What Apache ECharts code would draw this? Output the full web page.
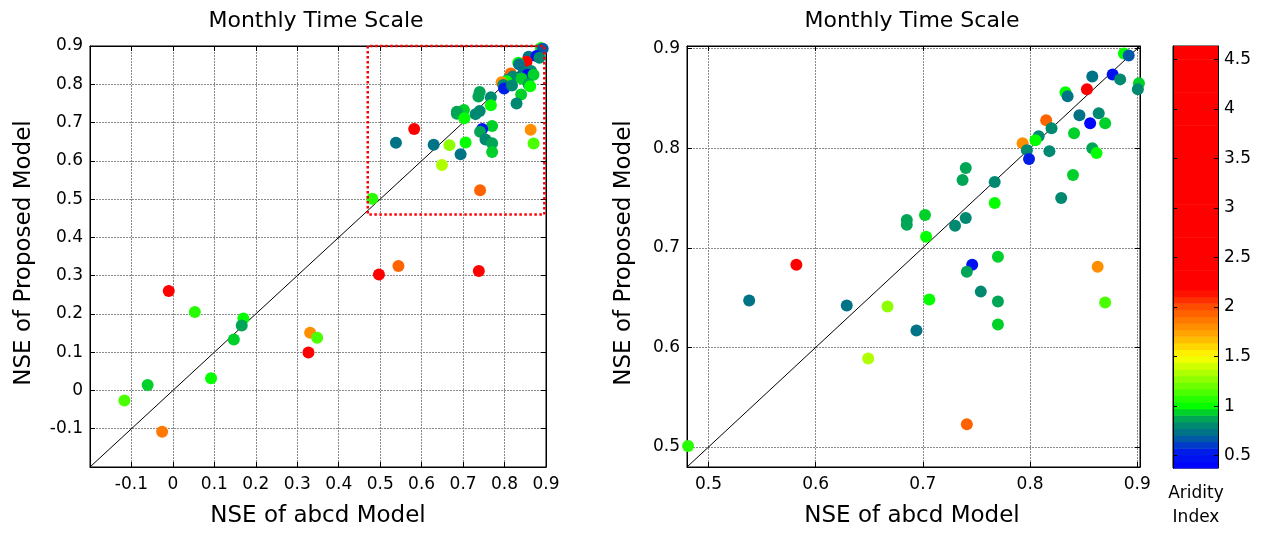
<!DOCTYPE html>
<html>
<head>
<meta charset="utf-8">
<script src="https://cdn.jsdelivr.net/npm/echarts@6/dist/echarts.min.js"></script>
<style>
  html, body { margin: 0; padding: 0; background: #fff; }
  #chart { width: 1262px; height: 533px; }
</style>
</head>
<body>
<div id="chart"></div>
<script>
// Monthly NSE of the abcd model vs. the proposed model, one point per catchment,
// coloured by the catchment's aridity index.
const nseAbcd = [
  0.8875, 0.892, 0.858, 0.877, 0.884, 0.9015, 0.9005, 0.853, 0.833, 0.835,
  0.846, 0.864, 0.856, 0.870, 0.815, 0.820, 0.841, 0.808, 0.805, 0.793,
  0.797, 0.799, 0.818, 0.858, 0.862, 0.840, 0.829, 0.740, 0.737, 0.767,
  0.767, 0.702, 0.685, 0.685, 0.740, 0.730, 0.703, 0.770, 0.582, 0.746,
  0.741, 0.863, 0.754, 0.538, 0.629, 0.667, 0.706, 0.770, 0.870, 0.770,
  0.694, 0.649, 0.741, 0.481,
  -0.010, 0.053, 0.170, 0.166, 0.147, 0.331, 0.348, 0.327, 0.092, -0.061,
  -0.117, -0.026, 0.497, 0.544, 0.738
];
const nseProposed = [
  0.895, 0.893, 0.872, 0.874, 0.869, 0.865, 0.859, 0.859, 0.856, 0.852,
  0.833, 0.835, 0.825, 0.825, 0.828, 0.820, 0.815, 0.812, 0.808, 0.805,
  0.798, 0.789, 0.797, 0.800, 0.795, 0.773, 0.750, 0.780, 0.768, 0.766,
  0.745, 0.733, 0.728, 0.723, 0.730, 0.722, 0.711, 0.691, 0.683, 0.683,
  0.676, 0.681, 0.656, 0.647, 0.642, 0.641, 0.648, 0.646, 0.645, 0.623,
  0.617, 0.589, 0.523, 0.501,
  0.260, 0.205, 0.188, 0.170, 0.133, 0.151, 0.138, 0.099, 0.032, 0.014,
  -0.026, -0.108, 0.303, 0.325, 0.312
];
const aridity = [
  1.00, 0.68, 0.72, 0.50, 0.82, 0.95, 0.80, 3.10, 1.02, 0.72,
  0.72, 0.80, 0.40, 0.92, 1.93, 0.82, 0.93, 0.78, 1.02, 1.78,
  0.78, 0.55, 0.80, 0.90, 1.02, 0.92, 0.84, 0.86, 0.86, 0.82,
  1.00, 0.92, 0.90, 0.88, 0.84, 0.82, 1.04, 0.97, 3.80, 0.48,
  0.86, 1.78, 0.78, 0.72, 0.72, 1.27, 1.02, 0.86, 1.15, 0.93,
  0.72, 1.33, 1.93, 1.10,
  4.60, 1.10, 0.98, 0.90, 0.97, 1.80, 1.15, 2.60, 1.02, 0.97,
  1.15, 1.85, 2.40, 1.95, 2.30
];

// Tick labels
const fullTicks = [-0.1, 0, 0.1, 0.2, 0.3, 0.4, 0.5, 0.6, 0.7, 0.8, 0.9];
const zoomTicks = [0.5, 0.6, 0.7, 0.8, 0.9];
const aridityTicks = [0.5, 1, 1.5, 2, 2.5, 3, 3.5, 4, 4.5];

// Outline of the zoomed region, drawn on the full-range panel
const zoomBoxX = [0.47, 0.47, 0.896, 0.896, 0.47];
const zoomBoxY = [0.9, 0.46, 0.46, 0.9, 0.9];

// Axis limits
const fullRange = [-0.2, 0.9];
const zoomRange = [0.48, 0.9025];
const aridityRange = [0.375, 4.635];

// Colormap (aridity -> rgb), sampled into 64 discrete levels
const cmapStops = [
  [0.375, [0, 0, 255]],
  [0.55, [0, 30, 230]],
  [0.65, [0, 80, 180]],
  [0.75, [0, 120, 130]],
  [0.85, [0, 150, 100]],
  [0.93, [0, 200, 50]],
  [1.00, [0, 255, 0]],
  [1.25, [130, 255, 0]],
  [1.50, [255, 255, 0]],
  [1.75, [255, 160, 0]],
  [2.00, [255, 80, 0]],
  [2.18, [255, 0, 0]],
  [4.635, [255, 0, 0]]
];
const LEVELS = 64;

function interpColor(v) {
  if (v <= cmapStops[0][0]) return cmapStops[0][1];
  for (let i = 1; i < cmapStops.length; i++) {
    const [v1, c1] = cmapStops[i];
    const [v0, c0] = cmapStops[i - 1];
    if (v <= v1) {
      const t = (v - v0) / (v1 - v0);
      return c0.map((c, k) => Math.round(c + (c1[k] - c) * t));
    }
  }
  return cmapStops[cmapStops.length - 1][1];
}
const levelStep = (aridityRange[1] - aridityRange[0]) / LEVELS;
const levelColors = [];
for (let i = 0; i < LEVELS; i++) {
  const c = interpColor(aridityRange[0] + (i + 0.5) * levelStep);
  levelColors.push('rgb(' + c.join(',') + ')');
}
function colorFor(v) {
  let i = Math.floor((v - aridityRange[0]) / levelStep);
  i = Math.max(0, Math.min(LEVELS - 1, i));
  return levelColors[i];
}

const points = nseAbcd.map((x, i) => [x, nseProposed[i], aridity[i]]);
const bands = levelColors.map((c, i) => ({
  value: [aridityRange[0] + i * levelStep, aridityRange[0] + (i + 1) * levelStep],
  itemStyle: { color: c }
}));

const FONT = 'DejaVu Sans';
const gridLine = { show: true, lineStyle: { color: '#8a8a8a', width: 1, type: [2, 1] } };

function mainAxis(grid, range, ticks, pos, labels) {
  return {
    gridIndex: grid, type: 'value', min: range[0], max: range[1], position: pos,
    axisLine: { show: true, onZero: false, lineStyle: { color: '#000', width: 1 } },
    axisTick: { show: true, inside: true, length: 5, customValues: ticks, lineStyle: { color: '#000' } },
    axisLabel: labels ? {
      show: true, customValues: ticks, margin: pos === 'bottom' ? 9 : 7,
      color: '#000', fontSize: 17, fontFamily: FONT
    } : { show: false },
    splitLine: labels ? gridLine : { show: false }
  };
}

const diagFull = { x: fullRange, y: fullRange };
const diagZoom = { x: zoomRange, y: zoomRange };

const option = {
  animation: false,
  backgroundColor: '#fff',
  grid: [
    { left: 90, top: 46, width: 456, height: 421, show: true, borderColor: '#000', borderWidth: 1 },
    { left: 687, top: 46, width: 453, height: 421, show: true, borderColor: '#000', borderWidth: 1 },
    { left: 1173, top: 46, width: 45, height: 422, show: true, borderColor: '#000', borderWidth: 1 }
  ],
  xAxis: [
    mainAxis(0, fullRange, fullTicks, 'bottom', true),
    mainAxis(0, fullRange, fullTicks, 'top', false),
    mainAxis(1, zoomRange, zoomTicks, 'bottom', true),
    mainAxis(1, zoomRange, zoomTicks, 'top', false),
    { gridIndex: 2, type: 'value', min: 0, max: 1, show: false }
  ],
  yAxis: [
    mainAxis(0, fullRange, fullTicks, 'left', true),
    mainAxis(0, fullRange, fullTicks, 'right', false),
    mainAxis(1, zoomRange, zoomTicks, 'left', true),
    mainAxis(1, zoomRange, zoomTicks, 'right', false),
    {
      gridIndex: 2, type: 'value', min: aridityRange[0], max: aridityRange[1], position: 'left',
      axisLine: { show: true, lineStyle: { color: '#000' } },
      axisTick: { show: true, inside: true, length: 4, customValues: aridityTicks, lineStyle: { color: '#000' } },
      axisLabel: { show: false }, splitLine: { show: false }
    },
    {
      gridIndex: 2, type: 'value', min: aridityRange[0], max: aridityRange[1], position: 'right',
      axisLine: { show: true, lineStyle: { color: '#000' } },
      axisTick: { show: true, inside: true, length: 4, customValues: aridityTicks, lineStyle: { color: '#000' } },
      axisLabel: { show: true, customValues: aridityTicks, margin: 6, color: '#000', fontSize: 17, fontFamily: FONT },
      splitLine: { show: false }
    }
  ],
  series: [
    {
      type: 'line', xAxisIndex: 0, yAxisIndex: 0, z: 1, silent: true, symbol: 'none',
      data: diagFull.x.map((x, i) => [x, diagFull.y[i]]),
      lineStyle: { color: '#000', width: 1 }
    },
    {
      type: 'scatter', xAxisIndex: 0, yAxisIndex: 0, z: 2, symbol: 'circle', symbolSize: 12,
      data: points, itemStyle: { color: p => colorFor(p.value[2]), opacity: 1 }
    },
    {
      type: 'line', xAxisIndex: 0, yAxisIndex: 0, z: 3, silent: true, symbol: 'none', clip: false,
      data: zoomBoxX.map((x, i) => [x, zoomBoxY[i]]),
      lineStyle: { color: '#ff0000', width: 2.5, type: [2.5, 2.5] }
    },
    {
      type: 'line', xAxisIndex: 2, yAxisIndex: 2, z: 1, silent: true, symbol: 'none',
      data: diagZoom.x.map((x, i) => [x, diagZoom.y[i]]),
      lineStyle: { color: '#000', width: 1 }
    },
    {
      type: 'scatter', xAxisIndex: 2, yAxisIndex: 2, z: 2, symbol: 'circle', symbolSize: 12, clip: true,
      data: points, itemStyle: { color: p => colorFor(p.value[2]), opacity: 1 }
    },
    {
      type: 'custom', xAxisIndex: 4, yAxisIndex: 4, z: 0, silent: true,
      data: bands,
      renderItem: (params, api) => {
        const a = api.coord([0, api.value(0)]);
        const b = api.coord([1, api.value(1)]);
        return {
          type: 'rect',
          shape: { x: a[0], y: b[1], width: b[0] - a[0], height: a[1] - b[1] + 0.6 },
          style: { fill: api.visual('color') }
        };
      }
    }
  ],
  graphic: [
    { type: 'text', x: 316, y: 21, style: { text: 'Monthly Time Scale', font: '22px "DejaVu Sans"', fill: '#000', align: 'center', verticalAlign: 'middle' } },
    { type: 'text', x: 912, y: 21, style: { text: 'Monthly Time Scale', font: '22px "DejaVu Sans"', fill: '#000', align: 'center', verticalAlign: 'middle' } },
    { type: 'text', x: 318, y: 516, style: { text: 'NSE of abcd Model', font: '23px "DejaVu Sans"', fill: '#000', align: 'center', verticalAlign: 'middle' } },
    { type: 'text', x: 912, y: 516, style: { text: 'NSE of abcd Model', font: '23px "DejaVu Sans"', fill: '#000', align: 'center', verticalAlign: 'middle' } },
    { type: 'text', x: 24, y: 253, rotation: Math.PI / 2, style: { text: 'NSE of Proposed Model', font: '23px "DejaVu Sans"', fill: '#000', align: 'center', verticalAlign: 'middle' } },
    { type: 'text', x: 624, y: 253, rotation: Math.PI / 2, style: { text: 'NSE of Proposed Model', font: '23px "DejaVu Sans"', fill: '#000', align: 'center', verticalAlign: 'middle' } },
    { type: 'text', x: 1196, y: 506, style: { text: 'Aridity\nIndex', font: '17px "DejaVu Sans"', lineHeight: 24, fill: '#000', align: 'center', verticalAlign: 'middle' } }
  ]
};

const chart = echarts.init(document.getElementById('chart'), null, { renderer: 'canvas' });
chart.setOption(option);
</script>
</body>
</html>
